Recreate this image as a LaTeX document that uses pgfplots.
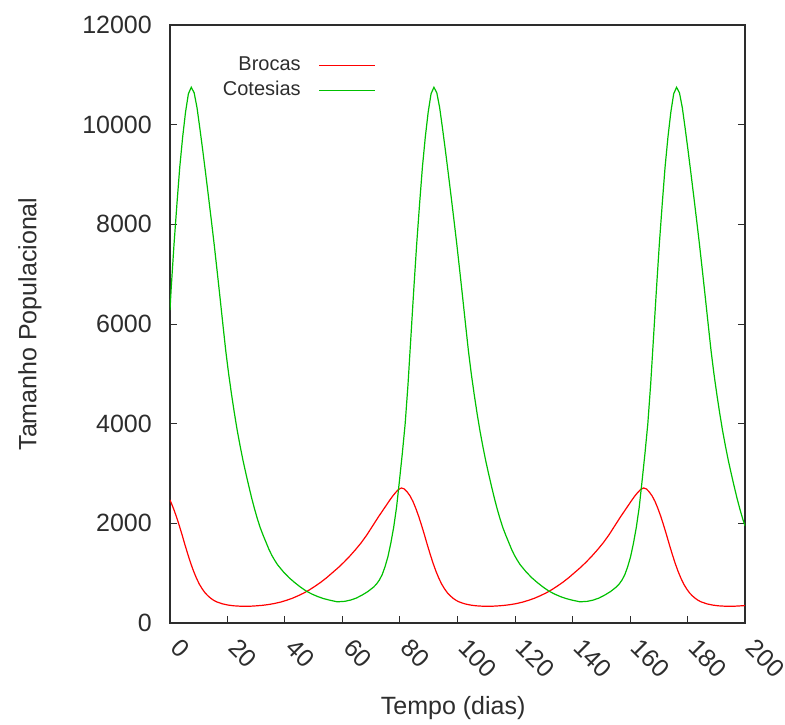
\documentclass[border=0pt]{standalone}
\usepackage{pgfplots}
\pgfplotsset{compat=1.18}
\usepackage{fontspec}
\setmainfont{Liberation Sans}
\definecolor{gpred}{RGB}{255,0,0}
\definecolor{gpgreen}{RGB}{0,192,0}
\definecolor{gpgray}{RGB}{45,45,45}

\begin{document}
\begin{tikzpicture}
\path[use as bounding box] (-170pt,-101pt) rectangle (615pt,623pt);
\begin{axis}[
  scale only axis, width=575pt, height=598pt,
  xmin=0, xmax=200, ymin=0, ymax=12000,
  xtick={0,20,...,200}, xticklabels={0,20,40,60,80,100,120,140,160,180,200},
  ytick={0,2000,...,12000}, yticklabels={0,2000,4000,6000,8000,10000,12000},
  scaled ticks=false,
  xtick pos=bottom, ytick pos=both, tick align=inside,
  major tick length=7pt,
  every tick/.style={gpgray, line width=1pt},
  axis line style={gpgray, line width=1.2pt},
  tick label style={font=\fontsize{25}{25}\selectfont, text=gpgray},
  yticklabel style={anchor=east, inner sep=0pt, xshift=-18pt},
  xticklabel style={xshift=12pt, yshift=-14pt, rotate=-45, anchor=north west, inner sep=0pt},
  label style={font=\fontsize{25}{25}\selectfont, text=gpgray},
  xlabel={Tempo (dias)}, ylabel={Tamanho Populacional},
  xlabel style={at={(axis description cs:0.4925,-0.1421)}, anchor=center},
  ylabel style={at={(axis description cs:-0.2435,0.5)}, anchor=center},
  legend plot pos=right,
  legend cell align=right,
  legend style={draw=none, fill=none, at={(axis description cs:0.3583,0.947)}, anchor=north east, inner sep=0pt, outer sep=0pt, font=\fontsize{20}{20}\selectfont, text=gpgray, column sep=18pt, row sep=6.2pt, nodes={inner sep=0pt, text height=14.3pt, text depth=4pt}},
  legend image code/.code={\draw[#1, line width=1.3pt] (0pt,0pt) -- (56pt,0pt);},
]
\addplot[gpred, line width=1.2pt] coordinates {
(0,2470) (1.2,2300) (2.2,2140) (3.2,1960) (4.2,1770) (5.2,1570) (6.2,1380) (7.2,1200) (8.2,1040) (9.2,900) (10.2,780) (11.2,685) (12.2,605) (13.2,545) (14.2,495) (15.2,455) (16.2,425) (18.2,385) (20.2,360) (22.2,345) (24.2,338) (26.2,336) (28.2,338) (30.2,345) (32.2,355) (34.2,370) (36.2,390)
(38.5,420) (40.5,455) (42.5,495) (44.5,545) (46.5,600) (48.5,665) (50.5,740) (52.5,820) (54.5,910) (56.5,1010) (58.5,1110) (60.5,1220) (62.5,1340) (64.5,1470) (66.5,1610) (68.5,1770) (70.5,1950) (72.5,2130) (74.5,2300) (76.5,2470) (77.5,2550) (78.5,2620) (79.5,2680) (80.5,2710)
(81.5,2690) (82.5,2630) (83.5,2550) (84.5,2440) (85.5,2300) (86.5,2140) (87.5,1960) (88.5,1770) (89.5,1570) (90.5,1380) (91.5,1200) (92.5,1040) (93.5,900) (94.5,780) (95.5,685) (96.5,605) (97.5,545) (98.5,495) (99.5,455) (100.5,425) (102.5,385) (104.5,360) (106.5,345) (108.5,338) (110.5,336) (112.5,338) (114.5,345) (116.5,355) (118.5,370) (120.5,390)
(122.7,420) (124.7,455) (126.7,495) (128.7,545) (130.7,600) (132.7,665) (134.7,740) (136.7,820) (138.7,910) (140.7,1010) (142.7,1110) (144.7,1220) (146.7,1340) (148.7,1470) (150.7,1610) (152.7,1770) (154.7,1950) (156.7,2130) (158.7,2300) (160.7,2470) (161.7,2550) (162.7,2620) (163.7,2680) (164.7,2710)
(165.7,2690) (166.7,2630) (167.7,2550) (168.7,2440) (169.7,2300) (170.7,2140) (171.7,1960) (172.7,1770) (173.7,1570) (174.7,1380) (175.7,1200) (176.7,1040) (177.7,900) (178.7,780) (179.7,685) (180.7,605) (181.7,545) (182.7,495) (183.7,455) (184.7,425) (186.7,385) (188.7,360) (190.7,345) (192.7,338) (194.7,336) (196.7,338) (198.7,345) (200,350)
};
\addlegendentry{Brocas}
\addplot[gpgreen, line width=1.2pt] coordinates {
(0,6280) (0.4,6700) (1.4,7600) (2.4,8400) (3.4,9150) (4.4,9750) (5.4,10250) (6.4,10620) (7.4,10750)
(8.4,10640) (9.4,10340) (10.4,9920) (11.4,9480) (12.4,9020) (13.4,8550) (14.4,8070) (15.4,7580) (16.4,7060) (17.4,6530) (18.4,5990) (19.4,5460) (20.4,5000) (21.4,4590) (22.4,4210) (23.4,3860) (24.4,3550) (25.4,3260) (26.4,3000) (27.4,2750) (28.4,2510) (29.4,2290) (30.4,2090) (31.4,1910) (32.4,1760) (33.4,1620) (34.4,1480) (35.4,1360) (36.4,1260) (37.4,1170) (39.4,1030) (41.4,910) (43.4,810) (45.4,720) (47.4,640) (49.4,580) (51.4,530) (53.4,490) (55.4,460) (58.2,425)
(60.8,435) (62.8,460) (64.8,500) (66.8,560) (68.8,630) (70.8,720) (71.8,780) (72.8,860) (73.8,970) (74.8,1130) (75.8,1330) (76.8,1600) (77.8,1920) (78.8,2320) (79.8,2850) (80.8,3400) (81.8,4000) (82.8,4800) (83.8,5750) (84.8,6700) (85.8,7600) (86.8,8400) (87.8,9150) (88.8,9750) (89.8,10250) (90.8,10620) (91.8,10750)
(92.8,10640) (93.8,10340) (94.8,9920) (95.8,9480) (96.8,9020) (97.8,8550) (98.8,8070) (99.8,7580) (100.8,7060) (101.8,6530) (102.8,5990) (103.8,5460) (104.8,5000) (105.8,4590) (106.8,4210) (107.8,3860) (108.8,3550) (109.8,3260) (110.8,3000) (111.8,2750) (112.8,2510) (113.8,2290) (114.8,2090) (115.8,1910) (116.8,1760) (117.8,1620) (118.8,1480) (119.8,1360) (120.8,1260) (121.8,1170) (123.8,1030) (125.8,910) (127.8,810) (129.8,720) (131.8,640) (133.8,580) (135.8,530) (137.8,490) (139.8,460) (142.6,425)
(145.2,435) (147.2,460) (149.2,500) (151.2,560) (153.2,630) (155.2,720) (156.2,780) (157.2,860) (158.2,970) (159.2,1130) (160.2,1330) (161.2,1600) (162.2,1920) (163.2,2320) (164.2,2850) (165.2,3400) (166.2,4000) (167.2,4800) (168.2,5750) (169.2,6700) (170.2,7600) (171.2,8400) (172.2,9150) (173.2,9750) (174.2,10250) (175.2,10620) (176.2,10750)
(177.2,10640) (178.2,10340) (179.2,9920) (180.2,9480) (181.2,9020) (182.2,8550) (183.2,8070) (184.2,7580) (185.2,7060) (186.2,6530) (187.2,5990) (188.2,5460) (189.2,5000) (190.2,4590) (191.2,4210) (192.2,3860) (193.2,3550) (194.2,3260) (195.2,3000) (196.2,2750) (197.2,2510) (198.2,2290) (199.2,2090) (200,1950)
};
\addlegendentry{Cotesias}
\end{axis}
\end{tikzpicture}
\end{document}
